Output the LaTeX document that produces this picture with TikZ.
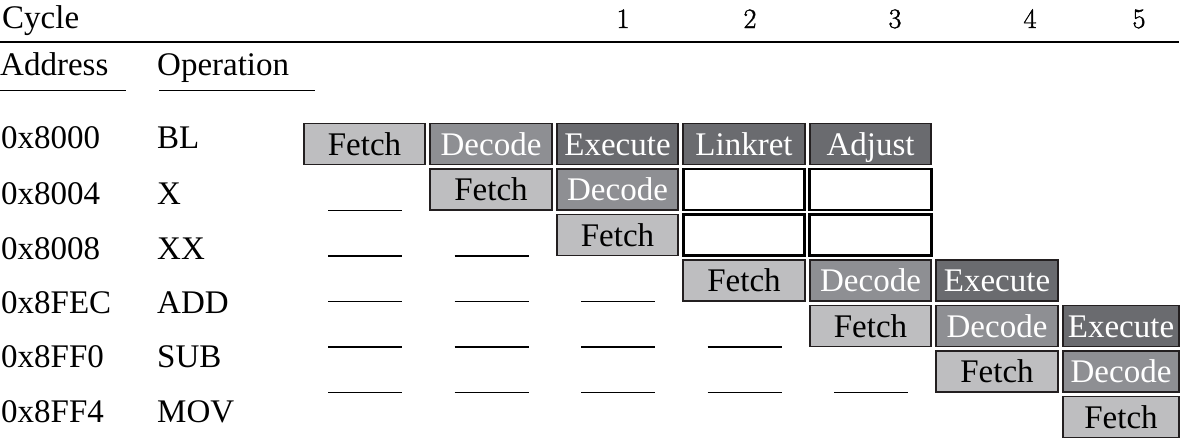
\documentclass[tikz,border=0pt]{standalone}
\usepackage{fontspec}
\newfontfamily\mainserif{Liberation Serif}
\newfontfamily\numserif{Latin Modern Roman}[FakeBold=1.5]
\definecolor{fetchgray}{RGB}{190,190,192}
\definecolor{decodegray}{RGB}{142,143,147}
\definecolor{execgray}{RGB}{106,107,111}
\definecolor{edgeblack}{RGB}{35,31,32}
\tikzset{
  txt/.style={inner sep=0pt, anchor=base west, font=\mainserif\fontsize{33}{40}\selectfont},
  numtxt/.style={inner sep=0pt, anchor=base, font=\numserif\fontsize{28}{34}\selectfont},
  stagebox/.style={draw=edgeblack, line width=1.6pt, minimum height=41pt, inner sep=0pt,
    text height=22pt, text depth=0pt, font=\mainserif\fontsize{33}{40}\selectfont},
  fetchbox/.style={stagebox, fill=fetchgray, text=black},
  decodebox/.style={stagebox, fill=decodegray, text=white},
  execbox/.style={stagebox, fill=execgray, text=white},
  emptybox/.style={stagebox, draw=black, line width=2.6pt, fill=white},
  rule/.style={line width=1.5pt, draw=black},
  blank/.style={line width=1.6pt, draw=black}
}
\begin{document}
\begin{tikzpicture}[x=1pt, y=-1pt]
\useasboundingbox (0,0) rectangle (1185,447);
% header
\node[txt] (cycle) at (2,28) {Cycle};
\coordinate (ruleL) at (0,42);
\coordinate (ruleR) at (1179,42);
\draw[rule] (ruleL) -- (ruleR);
\foreach \n/\x in {1/623, 2/750, 3/895, 4/1030, 5/1139} {
  \node[numtxt] (num\n) at (\x,28) {\n};
}
\node[txt] (address) at (0,75) {Address};
\node[txt] (operation) at (157,75) {Operation};
\draw[rule] (0,90.5) coordinate (addrL) -- (126,90.5) coordinate (addrR);
\draw[rule] (159,90.5) coordinate (opL) -- (315,90.5) coordinate (opR);
% row labels
\foreach \i/\a/\o/\y in {0/0x8000/BL/148, 1/0x8004/X/204, 2/0x8008/XX/259, 3/0x8FEC/ADD/313, 4/0x8FF0/SUB/367, 5/0x8FF4/MOV/422} {
  \node[txt] (addr\i) at (1,\y) {\a};
  \node[txt] (op\i) at (157,\y) {\o};
}
% pipeline boxes
\foreach \r/\c/\s/\t in {
  0/0/fetchbox/Fetch, 0/1/decodebox/Decode, 0/2/execbox/Execute, 0/3/execbox/Linkret, 0/4/execbox/Adjust,
  1/1/fetchbox/Fetch, 1/2/decodebox/Decode, 1/3/emptybox/{}, 1/4/emptybox/{},
  2/2/fetchbox/Fetch, 2/3/emptybox/{}, 2/4/emptybox/{},
  3/3/fetchbox/Fetch, 3/4/decodebox/Decode, 3/5/execbox/Execute,
  4/4/fetchbox/Fetch, 4/5/decodebox/Decode, 4/6/execbox/Execute,
  5/5/fetchbox/Fetch, 5/6/decodebox/Decode,
  6/6/fetchbox/Fetch} {
  \pgfmathsetmacro\bw{\c==6 ? 116.5 : 121.5}
  \pgfmathsetmacro\bx{\c==6 ? 1121 : 364.5+126.5*\c}
  \pgfmathsetmacro\by{144+45.5*\r}
  \node[\s, minimum width=\bw pt] (box\r\c) at (\bx,\by) {\t};
}
% blanks
\foreach \r/\n in {1/0, 2/1, 3/2, 4/3, 5/4} {
  \foreach \c in {0,...,\n} {
    \pgfmathsetmacro\dx{365+126.5*\c}
    \pgfmathsetmacro\dy{123+45.5*\r+42}
    \draw[blank] (\dx-37,\dy) coordinate (bl\r\c) -- (\dx+37,\dy) coordinate (br\r\c);
  }
}
\end{tikzpicture}
\end{document}
